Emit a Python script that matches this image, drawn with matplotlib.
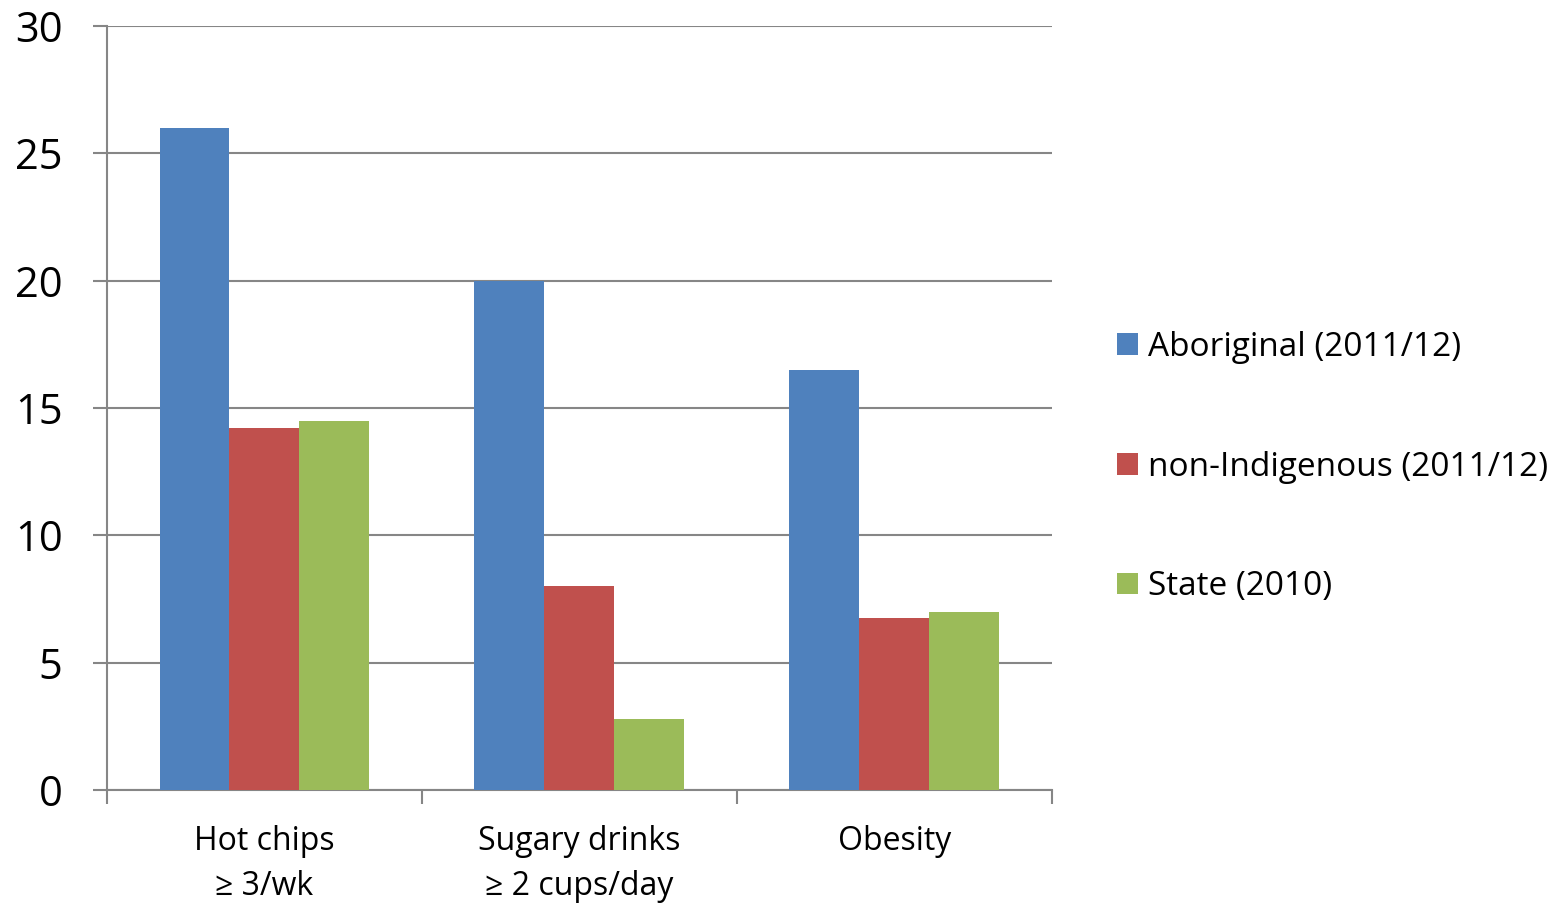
import numpy as np
import matplotlib.pyplot as plt

# data
categories = ["Hot chips\n\u2265 3/wk", "Sugary drinks\n\u2265 2 cups/day", "Obesity"]
series = ["Aboriginal (2011/12)", "non-Indigenous (2011/12)", "State (2010)"]
aboriginal = [26, 20, 16.5]
non_indigenous = [14.2, 8, 6.75]
state = [14.5, 2.8, 7]
colors = ["#4F81BD", "#C0504D", "#9BBB59"]

plt.rcParams['font.family'] = ['Open Sans', 'DejaVu Sans']
grey = "#868686"

fig = plt.figure(figsize=(15.58, 9.07), dpi=100)
ax = fig.add_axes([107/1558, 117/907, 945/1558, 764/907])

x = np.arange(len(categories))
w = 70/315
for i, (vals, lab) in enumerate(zip([aboriginal, non_indigenous, state], series)):
    ax.bar(x + (i - 1) * w, vals, w, color=colors[i], label=lab, zorder=3)

ax.set_xlim(-0.5, 2.5)
ax.set_ylim(0, 30)
ax.set_yticks(range(0, 31, 5))
ax.set_xticks(x)
ax.set_xticklabels(categories, fontsize=23, linespacing=1.5)
ax.set_xticks(np.arange(-0.5, 3, 1), minor=True)
ax.tick_params(axis='x', which='major', length=0, pad=25)
ax.tick_params(axis='x', which='minor', length=10, width=1.5, color=grey, direction='out')
ax.tick_params(axis='y', length=10, width=1.5, color=grey, labelsize=30, pad=22)

ax.yaxis.grid(True, color=grey, linewidth=1.5, zorder=0)
for s in ['top', 'right']:
    ax.spines[s].set_visible(False)
for s in ['left', 'bottom']:
    ax.spines[s].set_color(grey)
    ax.spines[s].set_linewidth(1.5)

fig.legend(loc='center left', bbox_to_anchor=(1104/1558, 1 - 467/907), frameon=False,
           fontsize=24, labelspacing=2.6, handlelength=0.63, handleheight=0.63,
           handletextpad=0.3, borderaxespad=0)

fig.savefig("out.png", dpi=100)
